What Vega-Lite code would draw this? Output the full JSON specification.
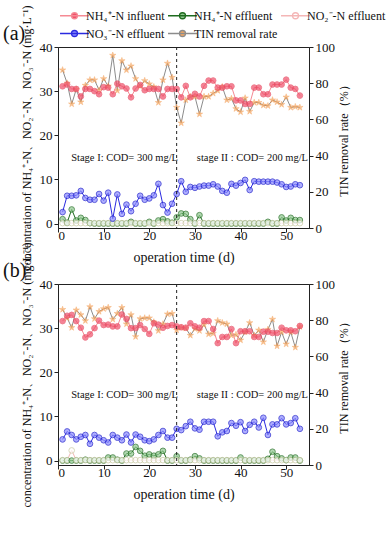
{
  "$schema": "https://vega.github.io/schema/vega-lite/v6.json",
  "padding": {"left": 2, "top": 4, "right": 5, "bottom": 5},
  "background": "white",
  "config": {
    "font": "Liberation Serif",
    "view": {"stroke": "#222", "strokeWidth": 1},
    "axis": {"grid": false, "domainColor": "#222", "tickColor": "#222", "labelColor": "#111", "titleColor": "#111", "labelFont": "Liberation Serif", "titleFont": "Liberation Serif", "labelFontSize": 13, "titleFontSize": 12, "titleFontWeight": "normal", "tickSize": 4, "labelPadding": 2},
    "legend": {"labelFont": "Liberation Serif", "labelFontSize": 12, "labelColor": "#111", "padding": 0},
    "title": {"font": "Liberation Serif", "fontWeight": "normal", "fontSize": 20, "color": "#111"}
  },
  "data": {"values": [
    {"p":"a","d":1,"inf":31.1,"eff":1.0,"no2":0.1,"no3":2.6,"tin":87.3},
    {"p":"a","d":2,"inf":31.5,"eff":0.2,"no2":0.1,"no3":6.3,"tin":80.0},
    {"p":"a","d":3,"inf":30.5,"eff":3.2,"no2":0.1,"no3":6.3,"tin":68.5},
    {"p":"a","d":4,"inf":30.5,"eff":0.7,"no2":0.1,"no3":6.4,"tin":76.6},
    {"p":"a","d":5,"inf":28.8,"eff":1.3,"no2":0.1,"no3":7.4,"tin":69.6},
    {"p":"a","d":6,"inf":30.5,"eff":0.8,"no2":0.1,"no3":5.8,"tin":78.8},
    {"p":"a","d":7,"inf":30.5,"eff":0.1,"no2":0.1,"no3":5.4,"tin":81.8},
    {"p":"a","d":8,"inf":30.0,"eff":0.0,"no2":0.1,"no3":5.4,"tin":81.8},
    {"p":"a","d":9,"inf":29.3,"eff":0.0,"no2":0.1,"no3":6.7,"tin":76.2},
    {"p":"a","d":10,"inf":30.9,"eff":0.0,"no2":0.1,"no3":5.2,"tin":82.5},
    {"p":"a","d":11,"inf":30.8,"eff":0.0,"no2":0.1,"no3":7.0,"tin":78.4},
    {"p":"a","d":12,"inf":29.3,"eff":0.0,"no2":0.1,"no3":1.1,"tin":95.4},
    {"p":"a","d":13,"inf":31.7,"eff":0.0,"no2":0.1,"no3":6.6,"tin":75.9},
    {"p":"a","d":14,"inf":31.1,"eff":0.0,"no2":0.1,"no3":2.2,"tin":92.4},
    {"p":"a","d":15,"inf":30.6,"eff":0.0,"no2":0.1,"no3":4.3,"tin":87.3},
    {"p":"a","d":16,"inf":28.6,"eff":0.4,"no2":0.1,"no3":2.8,"tin":89.5},
    {"p":"a","d":17,"inf":30.6,"eff":0.0,"no2":0.1,"no3":4.5,"tin":82.5},
    {"p":"a","d":18,"inf":31.4,"eff":0.0,"no2":0.1,"no3":6.3,"tin":78.4},
    {"p":"a","d":19,"inf":30.2,"eff":0.0,"no2":0.1,"no3":5.4,"tin":81.4},
    {"p":"a","d":20,"inf":30.5,"eff":0.4,"no2":0.1,"no3":5.7,"tin":79.6},
    {"p":"a","d":21,"inf":30.5,"eff":0.0,"no2":0.1,"no3":6.4,"tin":78.0},
    {"p":"a","d":22,"inf":30.5,"eff":0.7,"no2":0.1,"no3":9.0,"tin":69.3},
    {"p":"a","d":23,"inf":28.8,"eff":1.0,"no2":0.1,"no3":4.2,"tin":81.8},
    {"p":"a","d":24,"inf":30.5,"eff":0.5,"no2":0.1,"no3":2.5,"tin":91.0},
    {"p":"a","d":25,"inf":30.5,"eff":0.2,"no2":0.1,"no3":4.5,"tin":83.2},
    {"p":"a","d":26,"inf":30.5,"eff":1.4,"no2":0.1,"no3":6.7,"tin":66.6},
    {"p":"a","d":27,"inf":28.6,"eff":2.3,"no2":0.1,"no3":9.6,"tin":58.0},
    {"p":"a","d":28,"inf":31.2,"eff":2.2,"no2":0.1,"no3":7.2,"tin":70.7},
    {"p":"a","d":29,"inf":28.6,"eff":1.0,"no2":0.1,"no3":8.3,"tin":72.6},
    {"p":"a","d":30,"inf":29.4,"eff":0.0,"no2":0.1,"no3":8.1,"tin":72.6},
    {"p":"a","d":31,"inf":28.8,"eff":1.9,"no2":0.1,"no3":8.4,"tin":62.9},
    {"p":"a","d":32,"inf":31.2,"eff":0.0,"no2":0.1,"no3":8.6,"tin":72.6},
    {"p":"a","d":33,"inf":32.4,"eff":0.0,"no2":0.1,"no3":8.6,"tin":72.6},
    {"p":"a","d":34,"inf":32.4,"eff":0.0,"no2":0.1,"no3":8.9,"tin":74.4},
    {"p":"a","d":35,"inf":30.8,"eff":0.0,"no2":0.1,"no3":8.4,"tin":75.9},
    {"p":"a","d":36,"inf":30.8,"eff":0.0,"no2":0.1,"no3":7.4,"tin":78.0},
    {"p":"a","d":37,"inf":31.1,"eff":0.0,"no2":0.1,"no3":7.0,"tin":70.7},
    {"p":"a","d":38,"inf":31.1,"eff":0.0,"no2":0.1,"no3":9.0,"tin":71.5},
    {"p":"a","d":39,"inf":27.9,"eff":0.0,"no2":0.1,"no3":8.6,"tin":65.9},
    {"p":"a","d":40,"inf":27.9,"eff":0.0,"no2":0.1,"no3":9.2,"tin":64.1},
    {"p":"a","d":41,"inf":27.1,"eff":0.0,"no2":0.1,"no3":9.9,"tin":71.8},
    {"p":"a","d":42,"inf":27.1,"eff":0.0,"no2":0.1,"no3":7.6,"tin":64.4},
    {"p":"a","d":43,"inf":30.8,"eff":0.0,"no2":0.1,"no3":9.6,"tin":69.3},
    {"p":"a","d":44,"inf":30.8,"eff":0.0,"no2":0.1,"no3":9.5,"tin":69.3},
    {"p":"a","d":45,"inf":29.3,"eff":0.0,"no2":0.1,"no3":9.5,"tin":67.8},
    {"p":"a","d":46,"inf":29.3,"eff":0.4,"no2":0.1,"no3":9.5,"tin":67.5},
    {"p":"a","d":47,"inf":31.5,"eff":0.0,"no2":0.1,"no3":9.5,"tin":70.7},
    {"p":"a","d":48,"inf":31.5,"eff":0.0,"no2":0.1,"no3":9.3,"tin":69.6},
    {"p":"a","d":49,"inf":31.5,"eff":1.4,"no2":0.1,"no3":8.9,"tin":68.2},
    {"p":"a","d":50,"inf":32.6,"eff":0.7,"no2":0.1,"no3":8.3,"tin":72.3},
    {"p":"a","d":51,"inf":30.8,"eff":1.3,"no2":0.1,"no3":8.4,"tin":66.6},
    {"p":"a","d":52,"inf":30.5,"eff":0.8,"no2":0.1,"no3":8.9,"tin":67.0},
    {"p":"a","d":53,"inf":29.0,"eff":0.8,"no2":0.1,"no3":8.7,"tin":66.6},
    {"p":"b","d":1,"inf":31.6,"eff":0.0,"no2":0.1,"no3":4.8,"tin":85.9},
    {"p":"b","d":2,"inf":32.8,"eff":0.0,"no2":0.1,"no3":6.6,"tin":81.2},
    {"p":"b","d":3,"inf":33.0,"eff":0.0,"no2":2.3,"no3":5.8,"tin":75.9},
    {"p":"b","d":4,"inf":31.6,"eff":0.0,"no2":0.1,"no3":4.8,"tin":85.6},
    {"p":"b","d":5,"inf":30.1,"eff":0.0,"no2":0.1,"no3":5.4,"tin":83.0},
    {"p":"b","d":6,"inf":27.9,"eff":0.2,"no2":0.1,"no3":5.8,"tin":79.7},
    {"p":"b","d":7,"inf":28.6,"eff":0.0,"no2":0.1,"no3":3.8,"tin":87.4},
    {"p":"b","d":8,"inf":30.0,"eff":0.0,"no2":0.1,"no3":5.8,"tin":80.8},
    {"p":"b","d":9,"inf":31.7,"eff":0.0,"no2":0.1,"no3":5.2,"tin":84.8},
    {"p":"b","d":10,"inf":30.7,"eff":0.0,"no2":0.1,"no3":4.6,"tin":86.3},
    {"p":"b","d":11,"inf":30.8,"eff":0.7,"no2":0.1,"no3":4.1,"tin":87.0},
    {"p":"b","d":12,"inf":30.4,"eff":0.7,"no2":0.1,"no3":5.8,"tin":80.5},
    {"p":"b","d":13,"inf":30.4,"eff":0.2,"no2":0.1,"no3":5.2,"tin":83.7},
    {"p":"b","d":14,"inf":33.1,"eff":0.0,"no2":0.1,"no3":4.6,"tin":87.0},
    {"p":"b","d":15,"inf":32.1,"eff":1.6,"no2":0.1,"no3":5.9,"tin":77.9},
    {"p":"b","d":16,"inf":30.0,"eff":1.6,"no2":0.1,"no3":4.1,"tin":83.0},
    {"p":"b","d":17,"inf":30.0,"eff":3.1,"no2":0.1,"no3":5.9,"tin":70.9},
    {"p":"b","d":18,"inf":30.7,"eff":2.2,"no2":0.1,"no3":5.4,"tin":80.8},
    {"p":"b","d":19,"inf":29.8,"eff":1.1,"no2":0.1,"no3":4.6,"tin":81.2},
    {"p":"b","d":20,"inf":28.7,"eff":1.4,"no2":0.1,"no3":4.4,"tin":81.2},
    {"p":"b","d":21,"inf":31.1,"eff":1.1,"no2":0.1,"no3":4.8,"tin":79.0},
    {"p":"b","d":22,"inf":30.8,"eff":1.4,"no2":0.1,"no3":5.8,"tin":74.2},
    {"p":"b","d":23,"inf":30.1,"eff":2.2,"no2":0.1,"no3":6.7,"tin":77.9},
    {"p":"b","d":24,"inf":30.5,"eff":0.0,"no2":0.1,"no3":5.2,"tin":83.4},
    {"p":"b","d":25,"inf":30.7,"eff":0.0,"no2":0.1,"no3":5.2,"tin":83.7},
    {"p":"b","d":26,"inf":30.4,"eff":1.0,"no2":0.1,"no3":7.2,"tin":74.5},
    {"p":"b","d":27,"inf":30.2,"eff":0.0,"no2":0.1,"no3":6.9,"tin":75.9},
    {"p":"b","d":28,"inf":30.1,"eff":0.0,"no2":0.1,"no3":7.8,"tin":75.6},
    {"p":"b","d":29,"inf":31.1,"eff":0.2,"no2":0.1,"no3":8.8,"tin":71.6},
    {"p":"b","d":30,"inf":30.4,"eff":1.0,"no2":0.1,"no3":7.3,"tin":75.3},
    {"p":"b","d":31,"inf":30.1,"eff":0.5,"no2":0.1,"no3":7.0,"tin":74.2},
    {"p":"b","d":32,"inf":31.6,"eff":0.0,"no2":0.1,"no3":8.8,"tin":77.5},
    {"p":"b","d":33,"inf":31.6,"eff":0.0,"no2":0.1,"no3":8.8,"tin":72.3},
    {"p":"b","d":34,"inf":29.8,"eff":0.0,"no2":0.1,"no3":8.8,"tin":72.7},
    {"p":"b","d":35,"inf":26.6,"eff":0.0,"no2":0.1,"no3":5.5,"tin":79.7},
    {"p":"b","d":36,"inf":28.0,"eff":0.0,"no2":0.1,"no3":6.4,"tin":78.6},
    {"p":"b","d":37,"inf":28.0,"eff":0.0,"no2":0.1,"no3":6.7,"tin":77.9},
    {"p":"b","d":38,"inf":29.8,"eff":0.0,"no2":0.1,"no3":8.5,"tin":71.6},
    {"p":"b","d":39,"inf":26.6,"eff":0.0,"no2":0.1,"no3":7.9,"tin":72.0},
    {"p":"b","d":40,"inf":29.3,"eff":0.7,"no2":0.1,"no3":8.7,"tin":69.0},
    {"p":"b","d":41,"inf":29.3,"eff":0.0,"no2":0.1,"no3":6.7,"tin":73.4},
    {"p":"b","d":42,"inf":29.3,"eff":0.0,"no2":0.1,"no3":8.1,"tin":78.6},
    {"p":"b","d":43,"inf":28.0,"eff":0.0,"no2":0.1,"no3":8.8,"tin":71.6},
    {"p":"b","d":44,"inf":28.0,"eff":0.0,"no2":0.1,"no3":7.5,"tin":74.5},
    {"p":"b","d":45,"inf":29.2,"eff":0.0,"no2":0.1,"no3":9.7,"tin":68.0},
    {"p":"b","d":46,"inf":29.2,"eff":0.4,"no2":0.1,"no3":5.8,"tin":74.9},
    {"p":"b","d":47,"inf":28.9,"eff":2.0,"no2":0.1,"no3":8.2,"tin":80.5},
    {"p":"b","d":48,"inf":28.9,"eff":1.0,"no2":0.1,"no3":8.2,"tin":65.7},
    {"p":"b","d":49,"inf":30.1,"eff":0.5,"no2":0.1,"no3":9.6,"tin":73.4},
    {"p":"b","d":50,"inf":29.5,"eff":0.1,"no2":0.1,"no3":8.2,"tin":66.8},
    {"p":"b","d":51,"inf":29.5,"eff":0.7,"no2":0.1,"no3":8.5,"tin":73.4},
    {"p":"b","d":52,"inf":29.3,"eff":0.7,"no2":0.1,"no3":9.6,"tin":65.0},
    {"p":"b","d":53,"inf":30.5,"eff":0.0,"no2":0.1,"no3":7.2,"tin":76.4}
  ]},
  "bounds": "flush",
  "spacing": 56,
  "vconcat": [
    {
      "width": 251, "height": 181,
      "title": {"text": "(a)", "anchor": "start", "frame": "group", "dx": -55, "offset": -39},
      "encoding": {"x": {"field": "d", "type": "quantitative", "scale": {"domain": [0, 55]}, "axis": {"values": [0, 10, 20, 30, 40, 50], "title": "operation time (d)", "titleFontSize": 14, "titlePadding": 8, "labelPadding": -3}}},
      "resolve": {"scale": {"y": "independent"}},
      "layer": [
        {
          "encoding": {"y": {"field": "value", "type": "quantitative", "scale": {"domain": [0, 100]}, "axis": {"orient": "right", "values": [0, 20, 40, 60, 80, 100], "title": "TIN removal rate（%）", "titleAngle": -90, "titlePadding": 16}}},
          "layer": [
            {"transform": [{"filter": "datum.p === 'a'"}, {"fold": ["tin"], "as": ["key", "value"]}], "mark": {"type": "line", "strokeWidth": 1}, "encoding": {"color": {"field": "key", "type": "nominal", "scale": {"domain": ["inf", "eff", "no2", "no3", "tin"], "range": ["#f58a94", "#1e6b1e", "#f4b6b6", "#2a2ae0", "#8c8c8c"]}, "legend": {"title": null, "orient": "none", "legendX": 8, "legendY": -40, "direction": "horizontal", "columns": 3, "symbolType": "M-1.93,0H1.93M0.4,0A0.4,0.4,0,1,1,-0.4,0A0.4,0.4,0,1,1,0.4,0", "symbolSize": 225, "symbolStrokeWidth": 1.3, "labelOffset": 3, "columnPadding": 0, "rowPadding": 3, "encode": {"symbols": {"update": {"fill": {"scale": "fill", "field": "value"}}}}, "labelExpr": "{'inf':'NH₄⁺-N influent','eff':'NH₄⁺-N effluent','no2':'NO₂⁻-N effluent','no3':'NO₃⁻-N effluent','tin':'TIN removal rate'}[datum.value]"}}}},
            {"transform": [{"filter": "datum.p === 'a'"}, {"fold": ["tin"], "as": ["key", "value"]}], "mark": {"type": "point", "shape": "M0,-1L0.2245,-0.309L0.9511,-0.309L0.3633,0.118L0.5878,0.809L0,0.382L-0.5878,0.809L-0.3633,0.118L-0.9511,-0.309L-0.2245,-0.309Z", "filled": true, "size": 45, "strokeWidth": 0.5}, "encoding": {"fill": {"field": "key", "type": "nominal", "scale": {"domain": ["inf", "eff", "no2", "no3", "tin"], "range": ["#f0506a", "#8fc88f", "#ffffff", "#8c8cff", "#f8a860"]}, "legend": null}, "stroke": {"field": "key", "type": "nominal", "scale": {"domain": ["inf", "eff", "no2", "no3", "tin"], "range": ["#e84860", "#1e6b1e", "#c8c8a0", "#1a1acc", "#f09040"]}, "legend": null}}}
          ]
        },
        {
          "encoding": {"y": {"field": "value", "type": "quantitative", "scale": {"domain": [-1, 40]}, "axis": {"orient": "left", "values": [0, 10, 20, 30, 40], "title": "concentration of NH₄⁺-N、NO₂⁻-N、NO₃⁻-N (mg·L⁻¹)", "titlePadding": 6}}},
          "layer": [
            {"transform": [{"filter": "datum.p === 'a'"}, {"fold": ["inf", "eff", "no2", "no3"], "as": ["key", "value"]}], "mark": {"type": "line", "strokeWidth": 1}, "encoding": {"color": {"field": "key", "type": "nominal"}}},
            {"transform": [{"filter": "datum.p === 'a'"}, {"fold": ["inf", "eff", "no2", "no3"], "as": ["key", "value"]}], "mark": {"type": "point", "shape": "circle", "filled": true, "size": 32, "strokeWidth": 1}, "encoding": {"fill": {"field": "key", "type": "nominal", "legend": null}, "stroke": {"field": "key", "type": "nominal", "legend": null}}}
          ]
        },
        {"transform": [{"filter": "datum.p === 'a' && datum.d === 1"}], "mark": {"type": "rule", "strokeDash": [3, 3], "color": "#222", "strokeWidth": 1}, "encoding": {"x": {"datum": 26}}},
        {"transform": [{"filter": "datum.p === 'a' && datum.d === 1"}], "mark": {"type": "text", "text": "Stage I: COD= 300 mg/L", "fontSize": 10.5, "color": "#111"}, "encoding": {"x": {"datum": 14.6}, "y": {"datum": 14.9, "type": "quantitative", "scale": {"domain": [-1, 40]}, "axis": null}}},
        {"transform": [{"filter": "datum.p === 'a' && datum.d === 1"}], "mark": {"type": "text", "text": "stage II : COD= 200 mg/L", "fontSize": 10.5, "color": "#111"}, "encoding": {"x": {"datum": 42.6}, "y": {"datum": 14.9, "type": "quantitative", "scale": {"domain": [-1, 40]}, "axis": null}}}
      ]
    },
    {
      "width": 251, "height": 181,
      "title": {"text": "(b)", "anchor": "start", "frame": "group", "dx": -55, "offset": -39},
      "encoding": {"x": {"field": "d", "type": "quantitative", "scale": {"domain": [0, 55]}, "axis": {"values": [0, 10, 20, 30, 40, 50], "title": "operation time (d)", "titleFontSize": 14, "titlePadding": 8, "labelPadding": -3}}},
      "resolve": {"scale": {"y": "independent"}},
      "layer": [
        {
          "encoding": {"y": {"field": "value", "type": "quantitative", "scale": {"domain": [0, 100]}, "axis": {"orient": "right", "values": [0, 20, 40, 60, 80, 100], "title": "TIN removal rate（%）", "titleAngle": -90, "titlePadding": 16}}},
          "layer": [
            {"transform": [{"filter": "datum.p === 'b'"}, {"fold": ["tin"], "as": ["key", "value"]}], "mark": {"type": "line", "strokeWidth": 1}, "encoding": {"color": {"field": "key", "type": "nominal"}}},
            {"transform": [{"filter": "datum.p === 'b'"}, {"fold": ["tin"], "as": ["key", "value"]}], "mark": {"type": "point", "shape": "M0,-1L0.2245,-0.309L0.9511,-0.309L0.3633,0.118L0.5878,0.809L0,0.382L-0.5878,0.809L-0.3633,0.118L-0.9511,-0.309L-0.2245,-0.309Z", "filled": true, "size": 45, "strokeWidth": 0.5}, "encoding": {"fill": {"field": "key", "type": "nominal", "legend": null}, "stroke": {"field": "key", "type": "nominal", "legend": null}}}
          ]
        },
        {
          "encoding": {"y": {"field": "value", "type": "quantitative", "scale": {"domain": [-1, 40]}, "axis": {"orient": "left", "values": [0, 10, 20, 30, 40], "title": "concentration of NH₄⁺-N、NO₂⁻-N、NO₃⁻-N (mg·L⁻¹)", "titlePadding": 6}}},
          "layer": [
            {"transform": [{"filter": "datum.p === 'b'"}, {"fold": ["inf", "eff", "no2", "no3"], "as": ["key", "value"]}], "mark": {"type": "line", "strokeWidth": 1}, "encoding": {"color": {"field": "key", "type": "nominal"}}},
            {"transform": [{"filter": "datum.p === 'b'"}, {"fold": ["inf", "eff", "no2", "no3"], "as": ["key", "value"]}], "mark": {"type": "point", "shape": "circle", "filled": true, "size": 32, "strokeWidth": 1}, "encoding": {"fill": {"field": "key", "type": "nominal", "legend": null}, "stroke": {"field": "key", "type": "nominal", "legend": null}}}
          ]
        },
        {"transform": [{"filter": "datum.p === 'b' && datum.d === 1"}], "mark": {"type": "rule", "strokeDash": [3, 3], "color": "#222", "strokeWidth": 1}, "encoding": {"x": {"datum": 26}}},
        {"transform": [{"filter": "datum.p === 'b' && datum.d === 1"}], "mark": {"type": "text", "text": "Stage I: COD= 300 mg/L", "fontSize": 10.5, "color": "#111"}, "encoding": {"x": {"datum": 14.6}, "y": {"datum": 14.9, "type": "quantitative", "scale": {"domain": [-1, 40]}, "axis": null}}},
        {"transform": [{"filter": "datum.p === 'b' && datum.d === 1"}], "mark": {"type": "text", "text": "stage II : COD= 200 mg/L", "fontSize": 10.5, "color": "#111"}, "encoding": {"x": {"datum": 42.6}, "y": {"datum": 14.9, "type": "quantitative", "scale": {"domain": [-1, 40]}, "axis": null}}}
      ]
    }
  ]
}
